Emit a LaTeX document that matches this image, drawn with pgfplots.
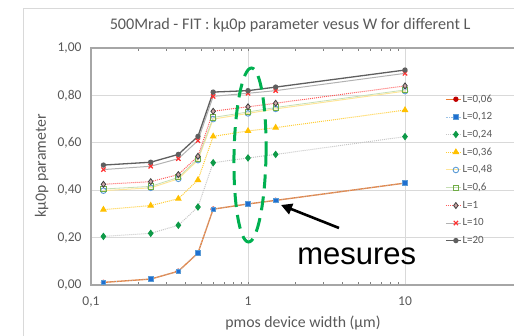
\documentclass[border=0pt]{standalone}
\usepackage{pgfplots}
\pgfplotsset{compat=1.18}
\usepackage{pgfplotstable}
\usepackage{fontspec}
\setmainfont{Carlito}
\newfontfamily\arialfont{Liberation Sans}
\usetikzlibrary{arrows.meta}
\definecolor{txtgray}{HTML}{595959}
\definecolor{axgray}{HTML}{A6A6A6}
\definecolor{gridgray}{HTML}{D9D9D9}
\definecolor{cOrange}{HTML}{ED7D31}
\definecolor{cDarkRed}{HTML}{C00000}
\definecolor{cBlue}{HTML}{1F6FD0}
\definecolor{cLightBlue}{HTML}{9DC3E6}
\definecolor{cGreen}{HTML}{0E9A48}
\definecolor{cYellow}{HTML}{FFC000}
\definecolor{cLightYellow}{HTML}{FFE699}
\definecolor{cOBlue}{HTML}{5B9BD5}
\definecolor{cOGreen}{HTML}{70AD47}
\definecolor{cRed}{HTML}{FF3030}
\definecolor{cDarkGray}{HTML}{5F5F5F}
\definecolor{cEllipse}{HTML}{00B050}

\pgfplotstableread{
W     L006  L012  L024  L036  L048  L06   L1    L10   L20
0.12  0.011 0.011 0.205 0.318 0.398 0.405 0.425 0.487 0.506
0.24  0.025 0.025 0.218 0.335 0.410 0.416 0.436 0.501 0.518
0.36  0.058 0.058 0.252 0.364 0.448 0.454 0.466 0.533 0.551
0.48  0.135 0.135 0.329 0.443 0.527 0.533 0.543 0.609 0.627
0.6   0.320 0.320 0.516 0.627 0.700 0.707 0.733 0.796 0.814
1     0.342 0.342 0.536 0.650 0.724 0.730 0.752 0.809 0.820
1.5   0.357 0.357 0.551 0.664 0.743 0.749 0.767 0.820 0.835
10    0.430 0.430 0.626 0.738 0.818 0.823 0.840 0.893 0.907
}\datatable

\begin{document}
\begin{tikzpicture}
\useasboundingbox (0pt,0pt) rectangle (514pt,336pt);
% chart frame
\draw[gridgray, line width=1pt] (23pt,-5pt) -- (23pt,327pt) -- (530pt,327pt);
\begin{axis}[
  at={(91pt,51pt)}, anchor=south west,
  scale only axis, width=430pt, height=237pt,
  xmode=log, xmin=0.1, xmax=54.8, ymin=0, ymax=1,
  xtick={0.1,1,10}, xticklabels={{0,1},1,10},
  ytick={0,0.2,0.4,0.6,0.8,1},
  yticklabels={{0,00},{0,20},{0,40},{0,60},{0,80},{1,00}},
  minor xtick={},
  major tick length=0pt,
  axis line style={axgray, line width=1.2pt},
  grid=major, major grid style={gridgray, line width=0.8pt},
  tick label style={font=\fontsize{13.5}{15}\selectfont, text=txtgray},
  yticklabel style={xshift=-6pt},
  xticklabel style={yshift=-8pt},
  title={500Mrad - FIT : kµ0p parameter vesus W for different L},
  title style={font=\fontsize{16.2}{18}\selectfont, text=txtgray, at={(rel axis cs:0.463,1.072)}, anchor=center},
  xlabel={pmos device width (µm)},
  xlabel style={font=\fontsize{15.8}{17}\selectfont, text=txtgray, at={(rel axis cs:0.493,-0.160)}, anchor=center},
  ylabel={kµ0p parameter},
  ylabel style={font=\fontsize{15.8}{17}\selectfont, text=txtgray, at={(rel axis cs:-0.115,0.502)}, anchor=center},
  legend style={at={(rel axis cs:0.821,0.812)}, anchor=north west, draw=none, fill=none,
    font=\fontsize{11}{12}\selectfont, text=txtgray, row sep=6.9pt, inner sep=1pt,
    nodes={inner sep=1pt}},
  legend cell align=left,
  legend image code/.code={\draw[#1] (0pt,0pt) -- (15pt,0pt); \draw[#1, mark repeat=1] plot coordinates {(10pt,0pt)};},
  clip=false,
]
\addplot[cOrange, line width=1.3pt, mark=*, mark size=2pt, mark options={draw=cDarkRed, fill=cDarkRed, solid}] table[x=W,y=L006]{\datatable};
\addlegendentry{L=0,06}
\addplot[cLightBlue, line width=0.6pt, densely dotted, mark=square*, mark size=2.3pt, mark options={draw=cOBlue, fill=cBlue, solid}] table[x=W,y=L012]{\datatable};
\addlegendentry{L=0,12}
\addplot[gray!45, line width=1pt, densely dotted, mark=diamond*, mark size=3pt, mark options={draw=cGreen, fill=cGreen, solid}] table[x=W,y=L024]{\datatable};
\addlegendentry{L=0,24}
\addplot[cYellow!80, line width=1pt, densely dotted, mark=triangle*, mark size=3pt, mark options={draw=cYellow, fill=cYellow, solid}] table[x=W,y=L036]{\datatable};
\addlegendentry{L=0,36}
\addplot[cLightYellow, line width=1pt, mark=o, mark size=2.8pt, mark options={draw=cOBlue, fill=white, line width=0.9pt, solid}] table[x=W,y=L048]{\datatable};
\addlegendentry{L=0,48}
\addplot[cOGreen!40, line width=0.8pt, mark=square, mark size=2.6pt, mark options={draw=cOGreen, fill=white, line width=1pt, solid}] table[x=W,y=L06]{\datatable};
\addlegendentry{L=0,6}
\addplot[cRed!80, line width=1pt, densely dotted, mark=diamond*, mark size=3pt, mark options={draw=black!75, fill=pink!60!gray, line width=0.8pt, solid}] table[x=W,y=L1]{\datatable};
\addlegendentry{L=1}
\addplot[gray!60, line width=1pt, mark=x, mark size=3pt, mark options={draw=cRed, line width=1.2pt, solid}] table[x=W,y=L10]{\datatable};
\addlegendentry{L=10}
\addplot[cDarkGray, line width=1.3pt, mark=*, mark size=2pt, mark options={draw=cDarkGray, fill=cDarkGray, solid}] table[x=W,y=L20]{\datatable};
\addlegendentry{L=20}
\end{axis}
% annotations
\draw[cEllipse, line width=3pt, dash pattern=on 14pt off 8pt, rotate around={-1:(250pt,181pt)}] (250pt,181pt) ellipse [x radius=16pt, y radius=87pt];
\draw[black, line width=2.6pt, -{Triangle[length=11pt,width=11pt]}] (339pt,108pt) -- (281pt,131pt);
\node[font=\arialfont\fontsize{31}{34}\selectfont, anchor=base, inner sep=0pt] at (356.7pt,71pt) {mesures};
\end{tikzpicture}
\end{document}
